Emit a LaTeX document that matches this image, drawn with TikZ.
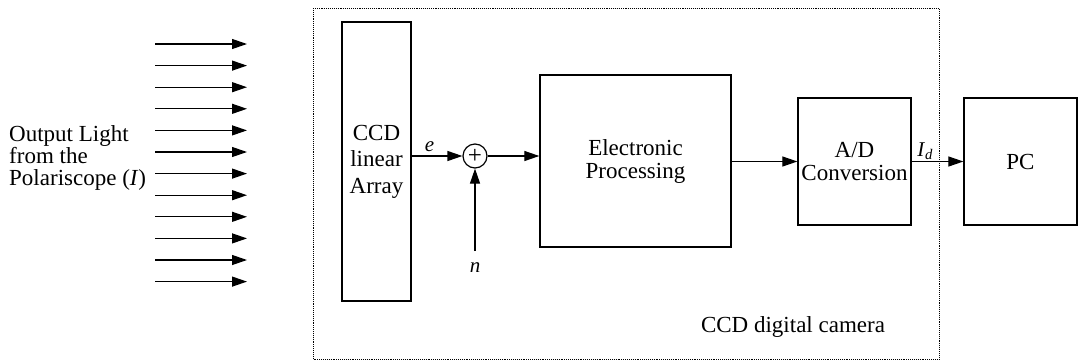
\documentclass[tikz,border=0pt]{standalone}
\usepackage{fontspec}
\setmainfont{Liberation Serif}
\usetikzlibrary{arrows.meta}
\begin{document}
\begin{tikzpicture}[x=1pt,y=-1pt,
        font=\fontsize{23}{23}\selectfont,
        blok/.style={draw,line width=1.3pt,inner sep=0pt,align=center},
        arr/.style={-{Triangle[length=15pt,width=10pt]},line width=1.2pt},
        lbl/.style={font=\fontsize{21}{21}\selectfont}]
        \useasboundingbox (0,0) rectangle (1078,362);
        \node[anchor=west,align=left,inner sep=0pt,font=\fontsize{23}{21.7}\selectfont] (light) at (9,158) {Output Light\\from the\\Polariscope (\textit{I})}; %texte
        \foreach \i in {0,...,11} {
            \coordinate (s\i) at (155,44+21.6*\i);
            \coordinate (t\i) at (247,44+21.6*\i);
            \draw[arr] (s\i)--(t\i);
        } %rayons
        \draw[densely dotted,line width=0.9pt] (313,8) rectangle (939,359); %camera
        \node (cam) at (793,327) {CCD digital camera};
        \node[blok,minimum width=69pt,minimum height=279pt] (ccd) at (376.5,161.5) {CCD\\[3.5pt]linear\\[3.5pt]Array}; %capteur
        \node[draw,circle,line width=1.2pt,minimum size=24pt,inner sep=0pt,font=\fontsize{25}{25}\selectfont] (sum) at (475,156) {+}; %somme
        \node[blok,minimum width=191pt,minimum height=172pt] (ep) at (635.5,161) {Electronic\\Processing};
        \node[blok,minimum width=113pt,minimum height=127pt] (ad) at (854.5,161.5) {A/D\\Conversion};
        \node[blok,minimum width=113pt,minimum height=127pt] (pc) at (1020.5,161.5) {PC};
        \coordinate (nin) at (475,251);
        \node[lbl] (nlab) at (475,268) {\textit{n}};
        \draw[arr] (ccd.east|-sum.west)--node[lbl,pos=0.35,above] (elab) {\textit{e}} (sum.west);
        \draw[arr] (nin)--(sum.south);
        \draw[arr] (sum.east)--(sum.east-|ep.west);
        \draw[arr] (ep.east|-ad.west)--(ad.west);
        \draw[arr] (ad.east)--node[lbl,pos=0.26,above,inner sep=1pt] (idlab) {\textit{I}\textsubscript{\textit{d}}} (pc.west);
    \end{tikzpicture}
\end{document}
